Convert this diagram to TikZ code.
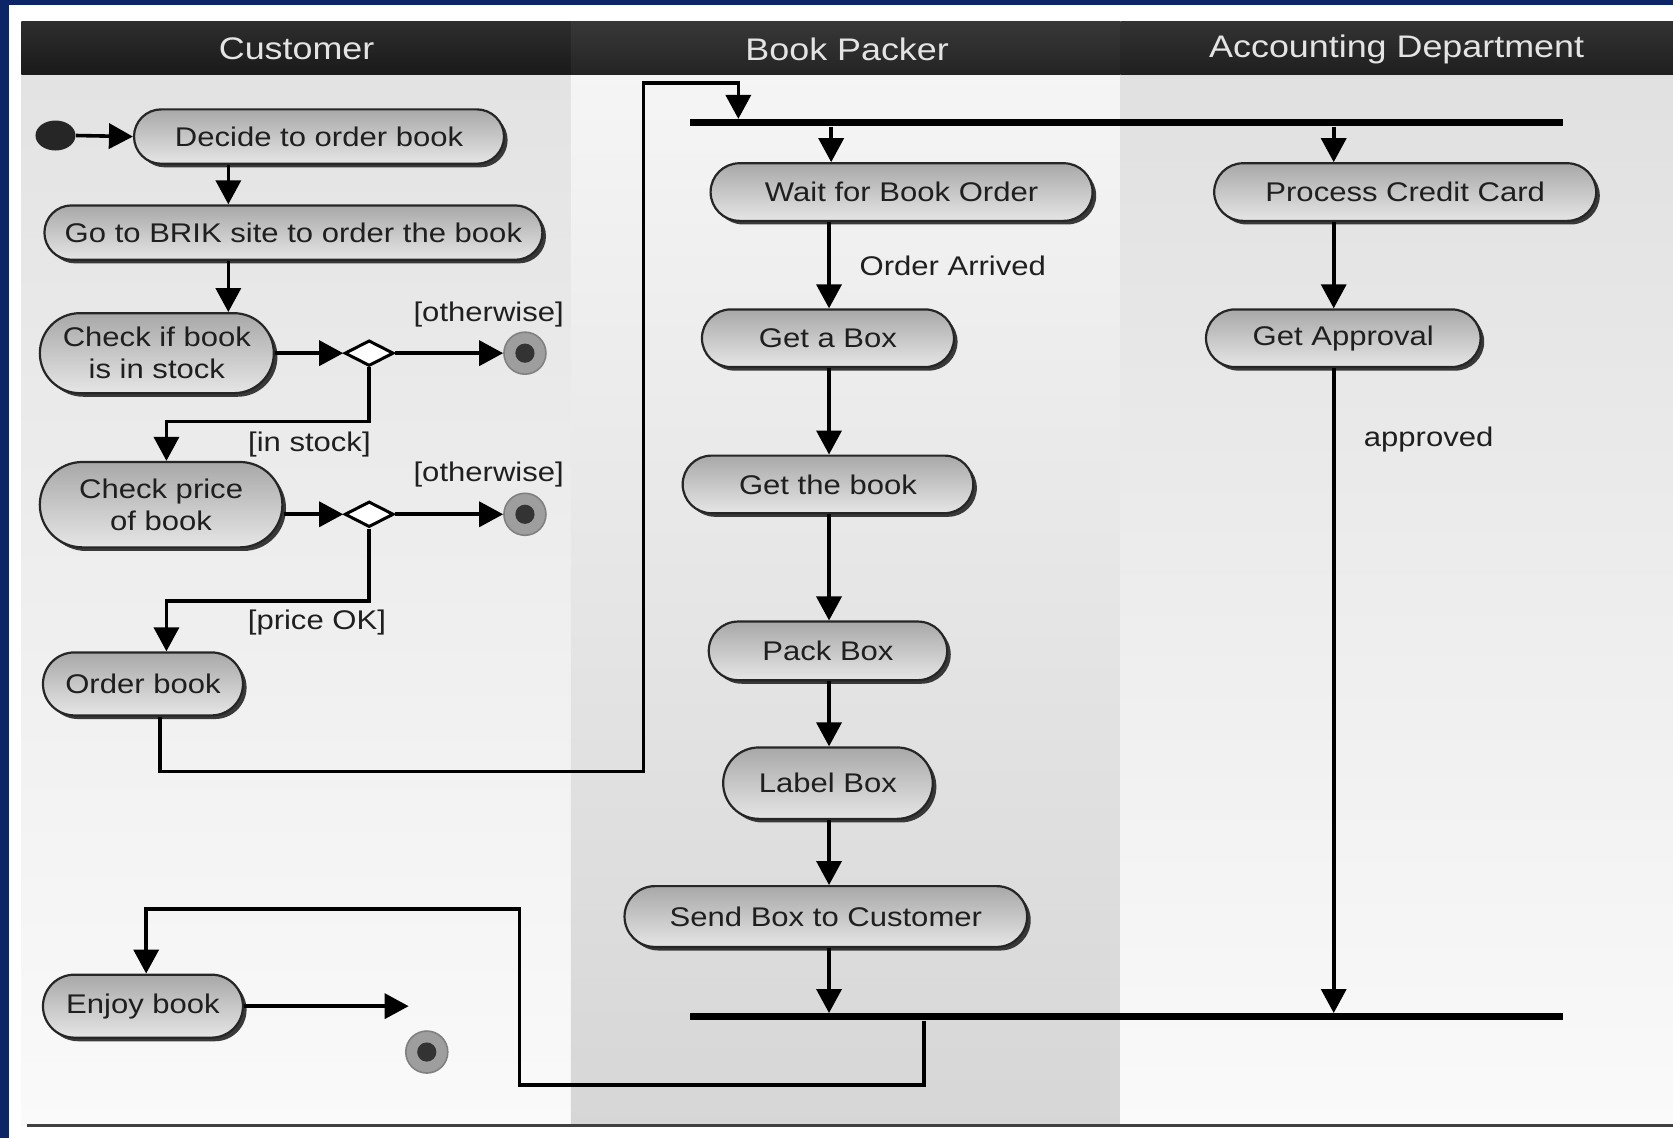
\documentclass[tikz,border=0pt]{standalone}
\usepackage{fontspec}
\setmainfont{Liberation Sans}[FakeStretch=1.15]
\usetikzlibrary{arrows.meta,shapes.misc,shapes.geometric,shadows,calc}

\definecolor{framenavy}{HTML}{0B2566}
\definecolor{headtext}{HTML}{E4E4E4}

\begin{document}
\begin{tikzpicture}[x=0.5335pt,y=-0.5335pt,
  act/.style={rounded rectangle, draw=black!85, line width=1.1pt,
    top color=black!34, bottom color=black!10,
    drop shadow={shadow xshift=1.8pt, shadow yshift=-1.8pt, opacity=0.9, fill=black!85},
    font=\fontsize{13.5}{16}\selectfont, text=black!88, inner sep=2pt, align=center},
  flow/.style={line width=1.8pt, -{Triangle[length=12pt,width=12.5pt]}},
  bar/.style={fill=black, inner sep=0pt, minimum height=3.4pt, minimum width=436.4pt},
  decision/.style={diamond, draw=black, fill=white, line width=1.5pt, inner sep=0pt,
    minimum width=24.5pt, minimum height=12.8pt},
  finalnode/.style={circle, minimum size=21pt, inner sep=0pt, fill=black!38,
    draw=black!50, line width=0.8pt,
    path picture={\fill[black!80] (path picture bounding box.center) circle (4.8pt);}},
  guard/.style={font=\fontsize{13.5}{16}\selectfont, text=black!88, inner sep=0pt},
  lanehead/.style={font=\fontsize{15.6}{18}\selectfont, text=headtext}
]
\useasboundingbox (0,0) rectangle (1568,1067);

% frame and page
\fill[framenavy] (0,0) rectangle (1568,1067);
\fill[white] (8,5) rectangle (1568,1067);

% swimlanes
\shade[top color=black!11, bottom color=black!2] (20,70) rectangle (535,1055);
\shade[top color=black!4, bottom color=black!16] (535,70) rectangle (1050,1055);
\shade[top color=black!12, bottom color=black!2] (1050,70) rectangle (1568,1055);

% lane headers
\shade[top color=black!82, bottom color=black!90] (20,20) rectangle (535,70);
\shade[top color=black!78, bottom color=black!86] (535,20) rectangle (1050,70);
\shade[top color=black!80, bottom color=black!88] (1050,20) rectangle (1568,70);
\node[lanehead] (hcust) at (278,46) {Customer};
\node[lanehead] (hpack) at (794,46) {Book Packer};
\node[lanehead] (hacct) at (1309,46) {Accounting Department};

% bottom rule
\draw[line width=1.6pt, black!75] (25,1055) -- (1568,1055);

% customer lane
\node[ellipse, fill=black!85, minimum width=20pt, minimum height=15pt, inner sep=0pt] (init) at (52,127) {};
\node[act, minimum width=189pt, minimum height=27.2pt] (decide) at (299,128) {Decide to order book};
\node[act, minimum width=253pt, minimum height=27.2pt] (gobrik) at (275,218) {Go to BRIK site to order the book};
\node[act, minimum width=121pt, minimum height=40pt] (chkstock) at (147,331) {Check if book\\is in stock};
\node[decision] (d1) at (346,331) {};
\node[finalnode] (end1) at (492,331) {};
\node[act, minimum width=125.3pt, minimum height=42.7pt] (chkprice) at (151,473) {Check price\\of book};
\node[decision] (d2) at (346,482) {};
\node[finalnode] (end2) at (492,482) {};
\node[act, minimum width=104pt, minimum height=31.5pt] (orderbook) at (134,641) {Order book};
\node[act, minimum width=104pt, minimum height=31.5pt] (enjoy) at (134,943) {Enjoy book};
\node[finalnode] (end3) at (400,986) {};

% book packer lane
\node[bar] (fork) at (1056,115) {};
\node[act, minimum width=195pt, minimum height=28.8pt] (wait) at (845,180) {Wait for Book Order};
\node[act, minimum width=130pt, minimum height=28.8pt] (getbox) at (776,317) {Get a Box};
\node[act, minimum width=149.3pt, minimum height=28.8pt] (getbook) at (776,454) {Get the book};
\node[act, minimum width=123.2pt, minimum height=29.3pt] (pack) at (776,610) {Pack Box};
\node[act, minimum width=108.8pt, minimum height=35.7pt] (labelbox) at (776,734) {Label Box};
\node[act, minimum width=205.3pt, minimum height=30.4pt] (send) at (774,859) {Send Box to Customer};
\node[bar] (join) at (1056,953) {};

% accounting lane
\node[act, minimum width=195pt, minimum height=28.8pt] (process) at (1317,180) {Process Credit Card};
\node[act, minimum width=141.3pt, minimum height=28.8pt] (approval) at (1259,317) {Get Approval};

% routing points
\coordinate (cx1) at (214,0);
\coordinate (k1) at (156,395);
\coordinate (k2) at (156,563);
\coordinate (k3) at (150,723);
\coordinate (k4) at (603,78);
\coordinate (k5) at (692,78);
\coordinate (px1) at (779,0);
\coordinate (px2) at (777,0);
\coordinate (ax) at (1250,0);
\coordinate (m1) at (866,1017);
\coordinate (m2) at (487,852);
\coordinate (m3) at (137,852);
\coordinate (e1) at (383,943);

% customer flow
\draw[flow] (init.east) -- (decide.west);
\draw[flow] (decide.south -| cx1) -- (gobrik.north -| cx1);
\draw[flow] (gobrik.south -| cx1) -- (chkstock.north -| cx1);
\draw[flow] (chkstock.east |- d1.west) -- (d1.west);
\draw[flow] (d1.east) -- (end1.west);
\draw[flow] (d1.south) |- (k1) -- (k1 |- chkprice.north);
\draw[flow] (chkprice.east |- d2.west) -- (d2.west);
\draw[flow] (d2.east) -- (end2.west);
\draw[flow] (d2.south) |- (k2) -- (k2 |- orderbook.north);
\draw[flow] (orderbook.south -| k3) -- (k3) -| (k4) -- (k5) -- (k5 |- fork.north);

% packer flow
\draw[flow] (fork.south -| px1) -- (wait.north -| px1);
\draw[flow] (wait.south -| px2) -- (getbox.north -| px2);
\draw[flow] (getbox.south -| px2) -- (getbook.north -| px2);
\draw[flow] (getbook.south -| px2) -- (pack.north -| px2);
\draw[flow] (pack.south -| px2) -- (labelbox.north -| px2);
\draw[flow] (labelbox.south -| px2) -- (send.north -| px2);
\draw[flow] (send.south -| px2) -- (join.north -| px2);

% accounting flow
\draw[flow] (fork.south -| ax) -- (process.north -| ax);
\draw[flow] (process.south -| ax) -- (approval.north -| ax);
\draw[flow] (approval.south -| ax) -- (join.north -| ax);

% back to the customer
\draw[flow] (join.south -| m1) -- (m1) -| (m2) -- (m3) -- (m3 |- enjoy.north);
\draw[flow] (enjoy.east) -- (e1);

% guards and labels
\node[guard] (g1) at (458,295) {[otherwise]};
\node[guard] (g2) at (290,417) {[in stock]};
\node[guard] (g3) at (458,445) {[otherwise]};
\node[guard] (g4) at (297,583) {[price OK]};
\node[guard] (g5) at (893,249) {Order Arrived};
\node[guard] (g6) at (1339,412) {approved};
\end{tikzpicture}
\end{document}
